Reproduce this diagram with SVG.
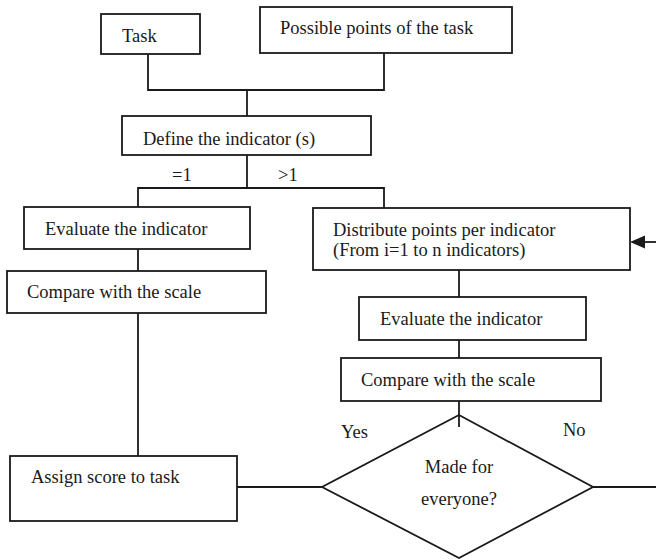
<svg xmlns="http://www.w3.org/2000/svg" width="656" height="560" viewBox="0 0 656 560">
<defs>
<style>
.box{fill:#fff;stroke:#1a1a1a;stroke-width:1.8}
.dia{fill:none;stroke:#1a1a1a;stroke-width:1.8}
.ln{fill:none;stroke:#1a1a1a;stroke-width:1.8}
text{font-family:"Liberation Serif","Times New Roman",serif;font-size:18.5px;fill:#1a1a1a}
</style>
</defs>
<rect width="656" height="560" fill="#fff"/>
<g id="connectors">
<polyline class="ln" points="148,54 148,90 384,90 384,53"/>
<line class="ln" x1="247" y1="90" x2="247" y2="116"/>
<polyline class="ln" points="247,155 247,188"/>
<polyline class="ln" points="138,207 138,188 384,188 384,208"/>
<line class="ln" x1="138" y1="249" x2="138" y2="271"/>
<line class="ln" x1="138" y1="313" x2="138" y2="456"/>
<line class="ln" x1="459" y1="270" x2="459" y2="297"/>
<line class="ln" x1="459" y1="340" x2="459" y2="358"/>
<line class="ln" x1="459" y1="401" x2="459" y2="427"/>
<line class="ln" x1="237" y1="487" x2="322" y2="487"/>
<line class="ln" x1="593" y1="487" x2="656" y2="487"/>
<line class="ln" x1="656" y1="242" x2="640" y2="242"/>
<path d="M630,242 L645,235.5 L645,248.5 Z" fill="#1a1a1a"/>
<text x="172" y="181">=1</text>
<text x="278" y="181">&gt;1</text>
<text x="341" y="438">Yes</text>
<text x="563" y="436">No</text>
</g>
<g id="task"><rect class="box" x="101" y="14" width="99" height="40"/><text x="122" y="42">Task</text></g>
<g id="possible"><rect class="box" x="260" y="7" width="252" height="46"/><text x="280" y="34">Possible points of the task</text></g>
<g id="define"><rect class="box" x="122" y="116" width="249" height="39"/><text x="143" y="145">Define the indicator (s)</text></g>
<g id="evaluate1"><rect class="box" x="24" y="207" width="226" height="42"/><text x="45" y="235">Evaluate the indicator</text></g>
<g id="compare1"><rect class="box" x="7" y="271" width="259" height="42"/><text x="27" y="298">Compare with the scale</text></g>
<g id="distribute"><rect class="box" x="313" y="208" width="317" height="62"/><text x="333" y="236">Distribute points per indicator</text><text x="333" y="256">(From i=1 to n indicators)</text></g>
<g id="evaluate2"><rect class="box" x="359" y="297" width="227" height="43"/><text x="380" y="325">Evaluate the indicator</text></g>
<g id="compare2"><rect class="box" x="341" y="358" width="260" height="43"/><text x="361" y="386">Compare with the scale</text></g>
<g id="decision"><polygon class="dia" points="459,415 593,487 459,558 322,487"/><text x="459" y="473" text-anchor="middle">Made for</text><text x="459" y="505" text-anchor="middle">everyone?</text></g>
<g id="assign"><rect class="box" x="10" y="456" width="227" height="65"/><text x="31" y="483">Assign score to task</text></g>
</svg>
